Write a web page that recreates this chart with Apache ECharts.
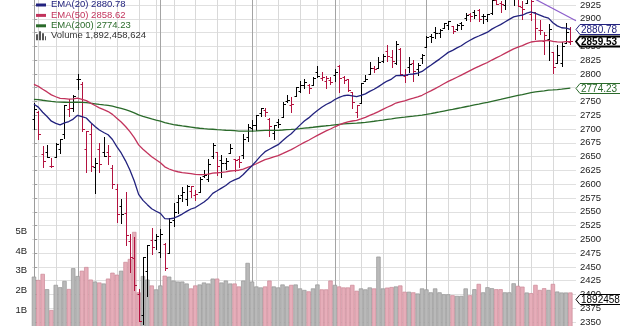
<!DOCTYPE html>
<html>
<head>
<meta charset="utf-8">
<script src="https://cdn.jsdelivr.net/npm/echarts@6/dist/echarts.min.js"></script>
<style>
  html, body { margin: 0; padding: 0; background: #ffffff; }
  #chart { width: 620px; height: 326px; }
</style>
</head>
<body>
<div id="chart"></div>
<script>
// S&P 500 daily bars, 16 Nov 2018 - 17 May 2019
const dates = [
  '2018-11-16','2018-11-19','2018-11-20','2018-11-21','2018-11-23','2018-11-26','2018-11-27','2018-11-28','2018-11-29','2018-11-30',
  '2018-12-03','2018-12-04','2018-12-06','2018-12-07','2018-12-10','2018-12-11','2018-12-12','2018-12-13','2018-12-14','2018-12-17',
  '2018-12-18','2018-12-19','2018-12-20','2018-12-21','2018-12-24','2018-12-26','2018-12-27','2018-12-28','2018-12-31',
  '2019-01-02','2019-01-03','2019-01-04','2019-01-07','2019-01-08','2019-01-09','2019-01-10','2019-01-11','2019-01-14','2019-01-15',
  '2019-01-16','2019-01-17','2019-01-18','2019-01-22','2019-01-23','2019-01-24','2019-01-25','2019-01-28','2019-01-29','2019-01-30','2019-01-31',
  '2019-02-01','2019-02-04','2019-02-05','2019-02-06','2019-02-07','2019-02-08','2019-02-11','2019-02-12','2019-02-13','2019-02-14',
  '2019-02-15','2019-02-19','2019-02-20','2019-02-21','2019-02-22','2019-02-25','2019-02-26','2019-02-27','2019-02-28',
  '2019-03-01','2019-03-04','2019-03-05','2019-03-06','2019-03-07','2019-03-08','2019-03-11','2019-03-12','2019-03-13','2019-03-14',
  '2019-03-15','2019-03-18','2019-03-19','2019-03-20','2019-03-21','2019-03-22','2019-03-25','2019-03-26','2019-03-27','2019-03-28','2019-03-29',
  '2019-04-01','2019-04-02','2019-04-03','2019-04-04','2019-04-05','2019-04-08','2019-04-09','2019-04-10','2019-04-11','2019-04-12',
  '2019-04-15','2019-04-16','2019-04-17','2019-04-18','2019-04-22','2019-04-23','2019-04-24','2019-04-25','2019-04-26','2019-04-29','2019-04-30',
  '2019-05-01','2019-05-02','2019-05-03','2019-05-06','2019-05-07','2019-05-08','2019-05-09','2019-05-10','2019-05-13','2019-05-14',
  '2019-05-15','2019-05-16','2019-05-17'
];

const opens = [
  2718.54,2730.74,2654.60,2657.74,2633.36,2649.97,2663.75,2691.45,2736.97,2737.76,
  2790.50,2782.43,2663.51,2691.26,2630.86,2664.44,2658.23,2658.70,2629.68,2590.75,
  2559.90,2547.05,2496.77,2465.38,2400.56,2363.12,2442.50,2498.77,2498.94,
  2476.96,2491.92,2474.33,2535.61,2568.11,2580.00,2573.51,2588.11,2580.31,2585.10,
  2614.75,2609.28,2651.27,2657.88,2643.48,2638.84,2657.44,2644.97,2644.89,2653.62,2685.49,
  2702.32,2706.49,2728.34,2735.05,2717.53,2692.36,2712.40,2722.61,2750.30,2743.50,
  2760.24,2769.28,2779.05,2780.67,2780.67,2804.35,2792.36,2787.50,2788.11,
  2798.22,2814.37,2794.41,2790.27,2766.53,2730.79,2747.61,2787.34,2799.78,2810.38,
  2810.79,2822.61,2840.76,2831.34,2819.72,2844.52,2796.01,2812.66,2819.72,2809.40,2828.27,
  2848.63,2868.24,2876.09,2873.99,2884.16,2888.46,2886.58,2881.37,2891.92,2900.86,
  2908.32,2912.26,2916.04,2904.81,2898.78,2909.99,2934.00,2928.99,2925.81,2940.58,2937.14,
  2952.33,2922.16,2929.21,2908.89,2913.03,2879.61,2859.84,2863.10,2840.19,2820.12,
  2820.38,2855.80,2858.60
];
const highs = [
  2746.75,2733.16,2669.44,2670.73,2647.55,2674.35,2682.53,2744.00,2753.75,2760.88,
  2800.18,2785.93,2696.15,2708.54,2647.51,2674.35,2685.44,2670.19,2635.07,2601.13,
  2573.99,2585.29,2509.63,2504.41,2410.34,2467.76,2489.10,2520.27,2509.24,
  2519.49,2493.14,2538.07,2566.16,2579.82,2595.32,2597.82,2596.27,2589.32,2613.08,
  2625.76,2645.06,2675.47,2657.88,2653.19,2647.20,2672.38,2644.97,2650.93,2690.44,2708.95,
  2716.66,2724.99,2738.98,2738.08,2719.32,2708.07,2718.05,2748.19,2761.85,2757.90,
  2775.66,2787.33,2789.88,2781.58,2794.20,2813.49,2803.12,2795.76,2793.73,
  2808.02,2816.88,2796.44,2790.27,2767.25,2744.13,2784.00,2798.32,2821.24,2815.00,
  2830.73,2835.41,2852.42,2843.54,2860.31,2846.16,2809.79,2829.87,2825.56,2819.71,2836.03,
  2869.40,2872.90,2885.25,2881.28,2893.24,2895.95,2886.88,2889.71,2893.42,2910.54,
  2909.60,2916.06,2918.00,2908.40,2909.51,2936.31,2936.83,2933.10,2939.88,2949.52,2948.22,
  2954.13,2931.68,2947.85,2937.32,2913.03,2897.96,2875.97,2891.31,2840.19,2852.54,
  2858.68,2892.15,2885.48
];
const lows = [
  2699.96,2681.09,2631.52,2649.82,2631.09,2649.97,2655.89,2684.38,2722.94,2732.76,
  2773.38,2697.18,2621.53,2623.14,2583.23,2621.30,2650.26,2637.27,2593.84,2530.54,
  2528.71,2488.96,2441.18,2408.55,2351.10,2346.58,2397.94,2472.89,2482.82,
  2467.47,2443.96,2474.33,2524.56,2547.56,2568.89,2562.02,2577.40,2570.41,2585.10,
  2612.68,2606.36,2647.58,2617.27,2612.86,2627.01,2657.33,2624.06,2631.05,2648.34,2678.65,
  2696.88,2698.75,2724.03,2724.15,2687.26,2681.83,2703.79,2722.61,2748.63,2731.23,
  2760.24,2767.29,2774.06,2764.55,2779.11,2794.99,2789.47,2775.13,2782.51,
  2787.38,2767.66,2782.97,2768.69,2739.09,2722.27,2747.61,2786.73,2799.78,2803.46,
  2810.79,2821.99,2823.27,2812.43,2817.38,2800.47,2785.02,2803.99,2787.72,2798.77,2819.23,
  2848.63,2858.75,2865.17,2867.14,2882.99,2880.78,2873.33,2879.13,2881.99,2898.37,
  2896.48,2900.71,2895.45,2891.90,2896.35,2908.53,2926.05,2912.84,2917.56,2939.35,2924.11,
  2923.36,2900.50,2929.21,2898.21,2862.60,2873.28,2836.40,2825.39,2801.43,2820.12,
  2815.08,2855.80,2854.23
];
const closes = [
  2736.27,2690.73,2641.89,2649.93,2632.56,2673.45,2682.17,2743.79,2737.76,2760.17,
  2790.37,2700.06,2695.95,2633.08,2637.72,2636.78,2651.07,2650.54,2599.95,2545.94,
  2546.16,2506.96,2467.42,2416.62,2351.10,2467.70,2488.83,2485.74,2506.85,
  2510.03,2447.89,2531.94,2549.69,2574.41,2584.96,2596.64,2596.26,2582.61,2610.30,
  2616.10,2635.96,2670.71,2632.90,2638.70,2642.33,2664.76,2643.85,2640.00,2681.05,2704.10,
  2706.53,2724.87,2737.70,2731.61,2706.05,2707.88,2709.80,2744.73,2753.03,2745.73,
  2775.60,2779.76,2784.70,2774.88,2792.67,2796.11,2793.90,2792.38,2784.49,
  2803.69,2792.81,2789.65,2771.45,2748.93,2743.07,2783.30,2791.52,2810.92,2808.48,
  2822.48,2832.94,2832.57,2824.23,2854.88,2800.71,2798.36,2818.46,2805.37,2815.44,2834.40,
  2867.19,2867.24,2873.40,2879.39,2892.74,2895.77,2878.20,2888.21,2888.32,2907.41,
  2905.58,2907.06,2900.45,2905.03,2907.97,2933.68,2927.25,2926.17,2939.88,2943.03,2945.83,
  2923.73,2917.52,2945.64,2932.47,2884.05,2879.42,2870.72,2881.40,2811.87,2834.41,
  2850.96,2876.32,2859.53
];
const priorClose = 2730.20;

const volumes = [
  2700000000,2530000000,2840000000,2060000000,1000000000,2280000000,2160000000,2480000000,2070000000,3130000000,
  2730000000,3000000000,3190000000,2550000000,2450000000,2400000000,2350000000,2600000000,2900000000,2800000000,
  3000000000,3450000000,3600000000,4980000000,1900000000,2730000000,2550000000,2250000000,2050000000,
  2250000000,2750000000,2700000000,2500000000,2450000000,2450000000,2350000000,2100000000,2250000000,2300000000,
  2400000000,2350000000,2600000000,2600000000,2400000000,2500000000,2350000000,2350000000,2200000000,2500000000,3400000000,
  2450000000,2200000000,2150000000,2200000000,2500000000,2200000000,2150000000,2300000000,2200000000,2280000000,
  2300000000,2100000000,2020000000,1950000000,2100000000,2300000000,2050000000,2050000000,2500000000,
  2280000000,2200000000,2150000000,2150000000,2280000000,1980000000,2100000000,2050000000,2150000000,2100000000,
  3720000000,2100000000,2140000000,2170000000,2200000000,2250000000,1930000000,1930000000,1900000000,1840000000,2100000000,
  2050000000,1900000000,2100000000,1900000000,1800000000,1800000000,1750000000,1720000000,1720000000,2100000000,
  1750000000,2060000000,2330000000,1900000000,2160000000,2110000000,2060000000,2060000000,1900000000,1900000000,2360000000,
  2230000000,2190000000,1890000000,1860000000,2280000000,2020000000,2110000000,2020000000,2330000000,1940000000,
  1890000000,1890000000,1892458624
];

const ema20 = [
  2745.00,2739.83,2730.50,2722.83,2714.23,2710.35,2707.67,2711.11,2713.65,2718.08,
  2724.96,2722.59,2720.05,2711.77,2704.72,2698.25,2693.76,2689.64,2681.10,2668.23,
  2656.60,2642.35,2625.69,2605.78,2581.52,2570.68,2562.88,2555.53,2550.89,
  2547.00,2537.56,2537.02,2538.23,2541.68,2545.80,2550.64,2554.98,2557.61,2562.63,
  2567.72,2574.22,2583.41,2588.12,2592.94,2597.64,2604.03,2607.82,2610.88,2617.56,2625.80,
  2633.49,2642.19,2651.29,2658.94,2663.43,2667.66,2671.67,2678.63,2685.72,2691.44,
  2699.46,2707.11,2714.50,2720.25,2727.15,2733.72,2739.45,2744.49,2748.30,
  2753.58,2757.32,2760.40,2761.45,2760.26,2758.62,2760.97,2763.88,2768.36,2772.18,
  2776.97,2782.30,2787.09,2790.63,2796.75,2797.13,2797.25,2799.27,2799.85,2801.33,2804.48,
  2810.45,2815.86,2821.34,2826.87,2833.14,2839.10,2842.82,2847.14,2851.06,2856.43,
  2861.11,2865.49,2868.82,2872.27,2875.67,2881.19,2885.58,2889.45,2894.25,2898.90,2903.37,
  2905.31,2906.47,2910.20,2912.32,2909.63,2906.75,2903.32,2901.23,2892.72,2887.17,
  2883.72,2883.02,2880.78
];
const ema50 = [
  2781.00,2777.46,2772.14,2767.35,2762.06,2758.59,2755.59,2755.13,2754.45,2754.67,
  2756.07,2753.87,2751.60,2746.95,2742.67,2738.52,2735.09,2731.77,2726.60,2719.52,
  2712.72,2704.65,2695.35,2684.42,2671.35,2663.36,2656.52,2649.82,2644.21,
  2638.95,2631.46,2627.56,2624.51,2622.55,2621.08,2620.12,2619.18,2617.75,2617.46,
  2617.41,2618.14,2620.20,2620.70,2621.41,2622.23,2623.90,2624.68,2625.28,2627.47,2630.48,
  2633.46,2637.04,2640.99,2644.54,2646.95,2649.34,2651.71,2655.36,2659.19,2662.58,
  2667.01,2671.43,2675.87,2679.75,2684.18,2688.57,2692.70,2696.61,2700.06,
  2704.12,2707.60,2710.82,2713.20,2714.60,2715.72,2718.37,2721.24,2724.76,2728.04,
  2731.74,2735.71,2739.51,2742.83,2747.22,2749.32,2751.24,2753.88,2755.90,2758.23,2761.22,
  2765.38,2769.37,2773.45,2777.60,2782.12,2786.58,2790.17,2794.01,2797.71,2802.01,
  2806.07,2810.03,2813.58,2817.17,2820.73,2825.16,2829.16,2832.96,2837.15,2841.30,2845.40,
  2848.47,2851.18,2854.88,2857.92,2858.94,2859.74,2860.17,2861.00,2859.07,2858.10,
  2857.82,2858.58,2858.62
];
const ema200 = [
  2753.95,2753.33,2752.24,2751.23,2750.06,2749.31,2748.66,2748.62,2748.53,2748.65,
  2748.96,2748.49,2747.97,2746.84,2745.77,2744.69,2743.77,2742.86,2741.45,2739.51,
  2737.49,2735.21,2732.55,2729.42,2725.67,2723.11,2720.79,2718.46,2716.37,
  2714.32,2711.58,2709.80,2708.22,2706.90,2705.69,2704.62,2703.55,2702.35,2701.45,
  2700.61,2699.89,2699.61,2698.95,2698.36,2697.81,2697.49,2696.97,2696.41,2696.27,2696.35,
  2696.37,2696.66,2697.08,2697.43,2697.52,2697.63,2697.76,2698.24,2698.79,2699.27,
  2699.96,2700.76,2701.61,2702.34,2703.25,2704.18,2705.08,2705.95,2706.74,
  2707.71,2708.51,2709.32,2709.94,2710.34,2710.67,2711.40,2712.20,2713.19,2714.15,
  2715.23,2716.35,2717.51,2718.58,2719.94,2720.75,2721.53,2722.50,2723.33,2724.25,2725.35,
  2726.71,2728.11,2729.56,2731.06,2732.67,2734.30,2735.74,2737.26,2738.77,2740.45,
  2742.06,2743.71,2745.27,2746.87,2748.47,2750.32,2752.09,2753.82,2755.68,2757.55,2759.37,
  2761.01,2762.58,2764.40,2766.08,2767.26,2768.38,2769.40,2770.52,2770.93,2771.54,
  2772.33,2773.37,2774.23
];

// hand-drawn resistance line across the early-May highs (bar index, price)
const trendX = [113, 124.3];
const trendY = [2943.6, 2896.5];

const volumeTicks = [1, 2, 3, 4, 5];

const FONT = '"Liberation Sans", Arial, sans-serif';
const NAVY = '#22227e';
const CRIMSON = '#c2335c';
const GREEN = '#2a6a2a';
const BAR_UP = '#000000';
const BAR_DOWN = '#b3123f';
const VOL_UP = '#b9b9b9', VOL_UP_EDGE = '#979797';
const VOL_DOWN = '#e6adb9', VOL_DOWN_EDGE = '#cc8a98';
const TREND = '#8d5fcc';

const n = dates.length;
const last = n - 1;
const dirs = closes.map((c, i) => (c >= (i ? closes[i - 1] : priorClose) ? 1 : -1));

// weekly and monthly vertical grid positions from the trading calendar
const gridMarks = [];
for (let i = 1; i < n; i++) {
  const a = new Date(dates[i - 1] + 'T00:00:00Z');
  const b = new Date(dates[i] + 'T00:00:00Z');
  const newMonth = a.getUTCMonth() !== b.getUTCMonth();
  const newWeek = b.getUTCDay() <= a.getUTCDay() || (b - a) >= 7 * 864e5;
  if (newMonth || newWeek) gridMarks.push([i, newMonth ? 1 : 0]);
}

const ohlcData = dates.map((d, i) => [i, opens[i], closes[i], lows[i], highs[i], dirs[i]]);
const volData = dates.map((d, i) => ({
  value: [i, volumes[i] / 1e9],
  itemStyle: {
    color: dirs[i] > 0 ? VOL_UP : VOL_DOWN,
    borderColor: dirs[i] > 0 ? VOL_UP_EDGE : VOL_DOWN_EDGE
  }
}));
const line = arr => arr.map((v, i) => [i, v]);

const name20 = 'EMA(20) ' + ema20[last].toFixed(2);
const name50 = 'EMA(50) ' + ema50[last].toFixed(2);
const name200 = 'EMA(200) ' + ema200[last].toFixed(2);
const nameVol = 'Volume ' + volumes[last].toLocaleString('en-US');

// value tags on the price scale
const priceTags = [
  { value: ema200[last], text: ema200[last].toFixed(2), color: GREEN, bold: false },
  { value: ema20[last], text: ema20[last].toFixed(2), color: NAVY, bold: false },
  { value: closes[last], text: closes[last].toFixed(2), color: '#000000', bold: true }
];
const volumeTag = { value: volumes[last] / 1e9, text: String(volumes[last]), color: '#000000', bold: false };

const X_MIN = -0.45, X_MAX = 124.3;

function renderGrid(params, api) {
  const i = api.value(0);
  const top = api.coord([i, 2950]);
  const bot = api.coord([i, 2325]);
  const x = Math.round(top[0]) + 0.5;
  return {
    type: 'line',
    shape: { x1: x, y1: top[1], x2: x, y2: bot[1] },
    style: { stroke: api.value(1) ? '#a4a4a4' : '#d9d9d9', lineWidth: 1 }
  };
}

function renderOHLC(params, api) {
  const i = api.value(0);
  const pO = api.coord([i, api.value(1)]);
  const pC = api.coord([i, api.value(2)]);
  const pL = api.coord([i, api.value(3)]);
  const pH = api.coord([i, api.value(4)]);
  const color = api.value(5) > 0 ? BAR_UP : BAR_DOWN;
  const x = Math.round(pH[0]) + 0.5;
  const yo = Math.round(pO[1]) + 0.5;
  const yc = Math.round(pC[1]) + 0.5;
  const st = { stroke: color, lineWidth: 1 };
  return {
    type: 'group',
    children: [
      { type: 'line', shape: { x1: x, y1: Math.round(pH[1]), x2: x, y2: Math.round(pL[1]) + 1 }, style: st },
      { type: 'line', shape: { x1: x - 2, y1: yo, x2: x, y2: yo }, style: st },
      { type: 'line', shape: { x1: x, y1: yc, x2: x + 2.5, y2: yc }, style: st }
    ]
  };
}

function drawTag(params, api, tag, dy) {
  const p = api.coord([api.value(0), api.value(1)]);
  const xr = params.coordSys.x + params.coordSys.width;
  const y = Math.round(p[1] + dy) + 0.5;
  const h = 5;
  return {
    type: 'group',
    children: [
      {
        type: 'polygon',
        shape: { points: [[xr, y], [xr + 4, y - h], [xr + 70, y - h], [xr + 70, y + h], [xr + 4, y + h]] },
        style: { fill: '#ffffff', stroke: tag.color, lineWidth: tag.bold ? 1.8 : 1 }
      },
      {
        type: 'text',
        style: {
          text: tag.text,
          x: xr + 5, y: y + 0.5,
          fill: tag.color,
          font: (tag.bold ? 'bold ' : '') + '10px ' + FONT,
          verticalAlign: 'middle', align: 'left'
        }
      }
    ]
  };
}

const chart = echarts.init(document.getElementById('chart'), null, { renderer: 'canvas' });

chart.setOption({
  animation: false,
  backgroundColor: '#ffffff',
  textStyle: { fontFamily: FONT },
  legend: {
    orient: 'vertical',
    left: 31,
    top: -5.5,
    itemWidth: 10,
    itemHeight: 10,
    itemGap: 0.4,
    selectedMode: false,
    textStyle: { fontSize: 9.5, lineHeight: 10, fontFamily: FONT },
    data: [
      { name: name20, icon: 'path://M0,0M0,4h10v3h-10zM10,10', itemStyle: { color: NAVY }, textStyle: { color: NAVY } },
      { name: name50, icon: 'path://M0,0M0,4h10v3h-10zM10,10', itemStyle: { color: CRIMSON }, textStyle: { color: CRIMSON } },
      { name: name200, icon: 'path://M0,0M0,4h10v3h-10zM10,10', itemStyle: { color: GREEN }, textStyle: { color: GREEN } },
      { name: nameVol, icon: 'path://M0,4h2v6h-2zM3,1h2v9h-2zM6,3h2v7h-2zM9,6h1v4h-1z', itemStyle: { color: '#555555' }, textStyle: { color: '#333333' } }
    ]
  },
  grid: [
    { left: 32, right: 44, top: -8.78, bottom: -9.8, outerBoundsMode: 'none', containLabel: false },
    { left: 32, right: 44, top: 0, bottom: -3.6, outerBoundsMode: 'none', containLabel: false }
  ],
  xAxis: [
    { gridIndex: 0, type: 'value', min: X_MIN, max: X_MAX, show: false },
    { gridIndex: 1, type: 'value', min: X_MIN, max: X_MAX, show: false }
  ],
  yAxis: [
    {
      gridIndex: 0, type: 'value', position: 'right',
      min: 2325, max: 2950, interval: 25,
      axisLine: { show: true, lineStyle: { color: '#9c9c9c', width: 1 } },
      axisTick: { show: true, length: 3, lineStyle: { color: '#9c9c9c' } },
      axisLabel: { fontSize: 9.5, color: '#222222', margin: 4, fontFamily: FONT, formatter: v => String(v) },
      splitLine: { show: true, lineStyle: { color: '#e0e0e0', width: 1 } }
    },
    {
      gridIndex: 1, type: 'value', position: 'left',
      min: 0, max: 16.8, interval: 1,
      axisLine: { show: true, lineStyle: { color: '#9c9c9c', width: 1 } },
      axisTick: { show: false },
      axisLabel: {
        fontSize: 9.5, color: '#222222', margin: 5, fontFamily: FONT,
        formatter: v => (volumeTicks.indexOf(v) >= 0 ? v + 'B' : '')
      },
      splitLine: { show: false }
    }
  ],
  series: [
    {
      type: 'custom', name: 'weeks', xAxisIndex: 0, yAxisIndex: 0,
      renderItem: renderGrid, data: gridMarks, z: 1, silent: true, clip: true
    },
    {
      type: 'bar', name: nameVol, xAxisIndex: 1, yAxisIndex: 1,
      data: volData, barWidth: 4.36, z: 2, silent: true,
      itemStyle: { borderWidth: 0.7 }
    },
    {
      type: 'custom', name: 'price', xAxisIndex: 0, yAxisIndex: 0,
      renderItem: renderOHLC, data: ohlcData, z: 3, silent: true, clip: true,
      encode: { x: 0, y: [1, 2, 3, 4] }
    },
    {
      type: 'line', name: name200, data: line(ema200), showSymbol: false, symbol: 'none',
      color: GREEN, lineStyle: { color: GREEN, width: 1.3 }, z: 4, silent: true
    },
    {
      type: 'line', name: name50, data: line(ema50), showSymbol: false, symbol: 'none',
      color: CRIMSON, lineStyle: { color: CRIMSON, width: 1.3 }, z: 4, silent: true
    },
    {
      type: 'line', name: name20, data: line(ema20), showSymbol: false, symbol: 'none',
      color: NAVY, lineStyle: { color: NAVY, width: 1.3 }, z: 4, silent: true
    },
    {
      type: 'line', name: 'trend', data: trendX.map((x, k) => [x, trendY[k]]),
      showSymbol: false, symbol: 'none', color: TREND,
      lineStyle: { color: TREND, width: 1.2 }, z: 4, silent: true
    },
    {
      type: 'custom', name: 'tags', xAxisIndex: 0, yAxisIndex: 0, clip: false, z: 6, silent: true,
      renderItem: (params, api) => drawTag(params, api, priceTags[params.dataIndex], 0),
      data: priceTags.map(t => [last, t.value])
    },
    {
      type: 'custom', name: 'volTag', xAxisIndex: 1, yAxisIndex: 1, clip: false, z: 6, silent: true,
      renderItem: (params, api) => drawTag(params, api, volumeTag, 7),
      data: [[last, volumeTag.value]]
    }
  ]
});
</script>
</body>
</html>
